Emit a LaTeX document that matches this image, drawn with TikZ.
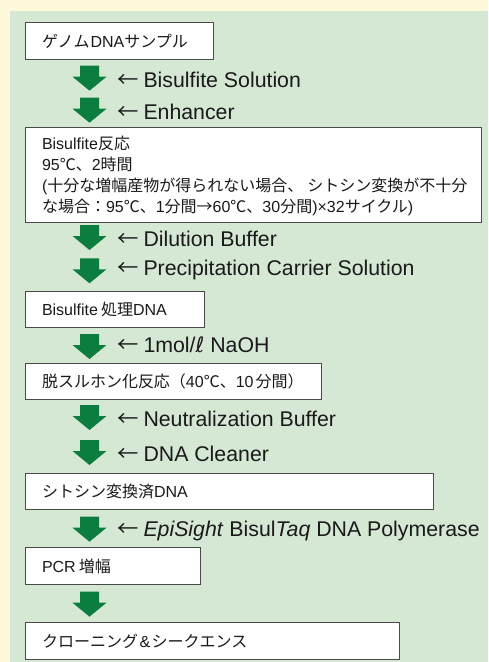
\documentclass[tikz,border=0pt]{standalone}
\usepackage{fontspec}
\setmainfont{Liberation Sans}
\newfontfamily\jpf{Noto Sans CJK JP}
\newfontfamily\dvf{DejaVu Sans}
\newcommand\jp[1]{{\jpf #1}}
\definecolor{bgyellow}{HTML}{FFF9DB}
\definecolor{panelgreen}{HTML}{D5E8D4}
\definecolor{arrowgreen}{HTML}{0B7D3E}
\definecolor{boxline}{HTML}{4A4A4A}
\definecolor{ink}{HTML}{1A1A1A}
\tikzset{
  stepbox/.style={draw=boxline, line width=1pt, fill=white, anchor=north west,
    inner xsep=16.5pt, inner ysep=0pt, align=left, text=ink,
    font=\fontsize{16}{21}\selectfont},
  reagent/.style={anchor=base west, inner sep=0pt, text=ink,
    font=\fontsize{21.3}{24}\selectfont},
  garrow/.pic={\fill[arrowgreen] (-9.5,0) -- (9.5,0) -- (9.5,11) -- (17,11)
    -- (0,25) -- (-17,11) -- (-9.5,11) -- cycle;}
}
\newcommand\la{\jp{←}\hspace{5pt}}
\begin{document}
\begin{tikzpicture}[x=1pt,y=-1pt]
\useasboundingbox (0,0) rectangle (488,662);
\fill[bgyellow] (0,0) rectangle (488,662);
\fill[panelgreen] (10,11) rectangle (488,662);

% boxes
\node[stepbox, text width=155pt, minimum height=37pt] (b1) at (25,22) {\jp{ゲノム}\kern1pt DNA\jp{サンプル}};
\node[stepbox, text width=423pt, minimum height=95pt] (b2) at (25,127)
  {\strut Bisulfite\jp{反応}\\
   95\jp{℃、}2\jp{時間}\\
   (\jp{十分な増幅産物が得られない場合、\kern4pt シトシン変換が不十分}\\
   \jp{な場合：}95\jp{℃、}1\jp{分間→}60\jp{℃、}30\jp{分間})×32\jp{サイクル})};
\node[stepbox, text width=146pt, minimum height=36pt] (b3) at (25,291) {Bisulfite\kern3pt\jp{処理}DNA};
\node[stepbox, text width=263pt, minimum height=36pt] (b4) at (25,363) {\jp{脱スルホン化反応（}40\jp{℃、}10\kern2pt\jp{分間）}};
\node[stepbox, text width=375pt, minimum height=36pt] (b5) at (25,473) {\jp{シトシン変換済}DNA};
\node[stepbox, text width=142pt, minimum height=37pt] (b6) at (25,547) {PCR\kern3pt\jp{増幅}};
\node[stepbox, text width=341pt, minimum height=37pt] (b7) at (25,622) {\jp{クローニング}\kern1.5pt\&\kern1.5pt\jp{シークエンス}};

% green arrows
\pic at (89.5,65.7) {garrow};
\pic at (89.5,97.7) {garrow};
\pic at (89.5,225) {garrow};
\pic at (89.5,258.3) {garrow};
\pic at (89.5,334) {garrow};
\pic at (89.5,405) {garrow};
\pic at (89.5,440) {garrow};
\pic at (89.5,516.7) {garrow};
\pic at (89.5,591.7) {garrow};

% reagent labels
\node[reagent] (l1) at (117,87.3) {\la Bisulfite Solution};
\node[reagent] (l2) at (117,119.3) {\la Enhancer};
\node[reagent] (l3) at (117,246) {\la Dilution Buffer};
\node[reagent] (l4) at (117,275.7) {\la Precipitation Carrier Solution};
\node[reagent] (l5) at (117,352.7) {\la 1mol/{\dvf ℓ} NaOH};
\node[reagent] (l6) at (117,426) {\la Neutralization Buffer};
\node[reagent] (l7) at (117,461.7) {\la DNA Cleaner};
\node[reagent] (l8) at (117,536.7) {\la \textit{EpiSight} Bisul\textit{Taq} DNA Polymerase};
\end{tikzpicture}
\end{document}
